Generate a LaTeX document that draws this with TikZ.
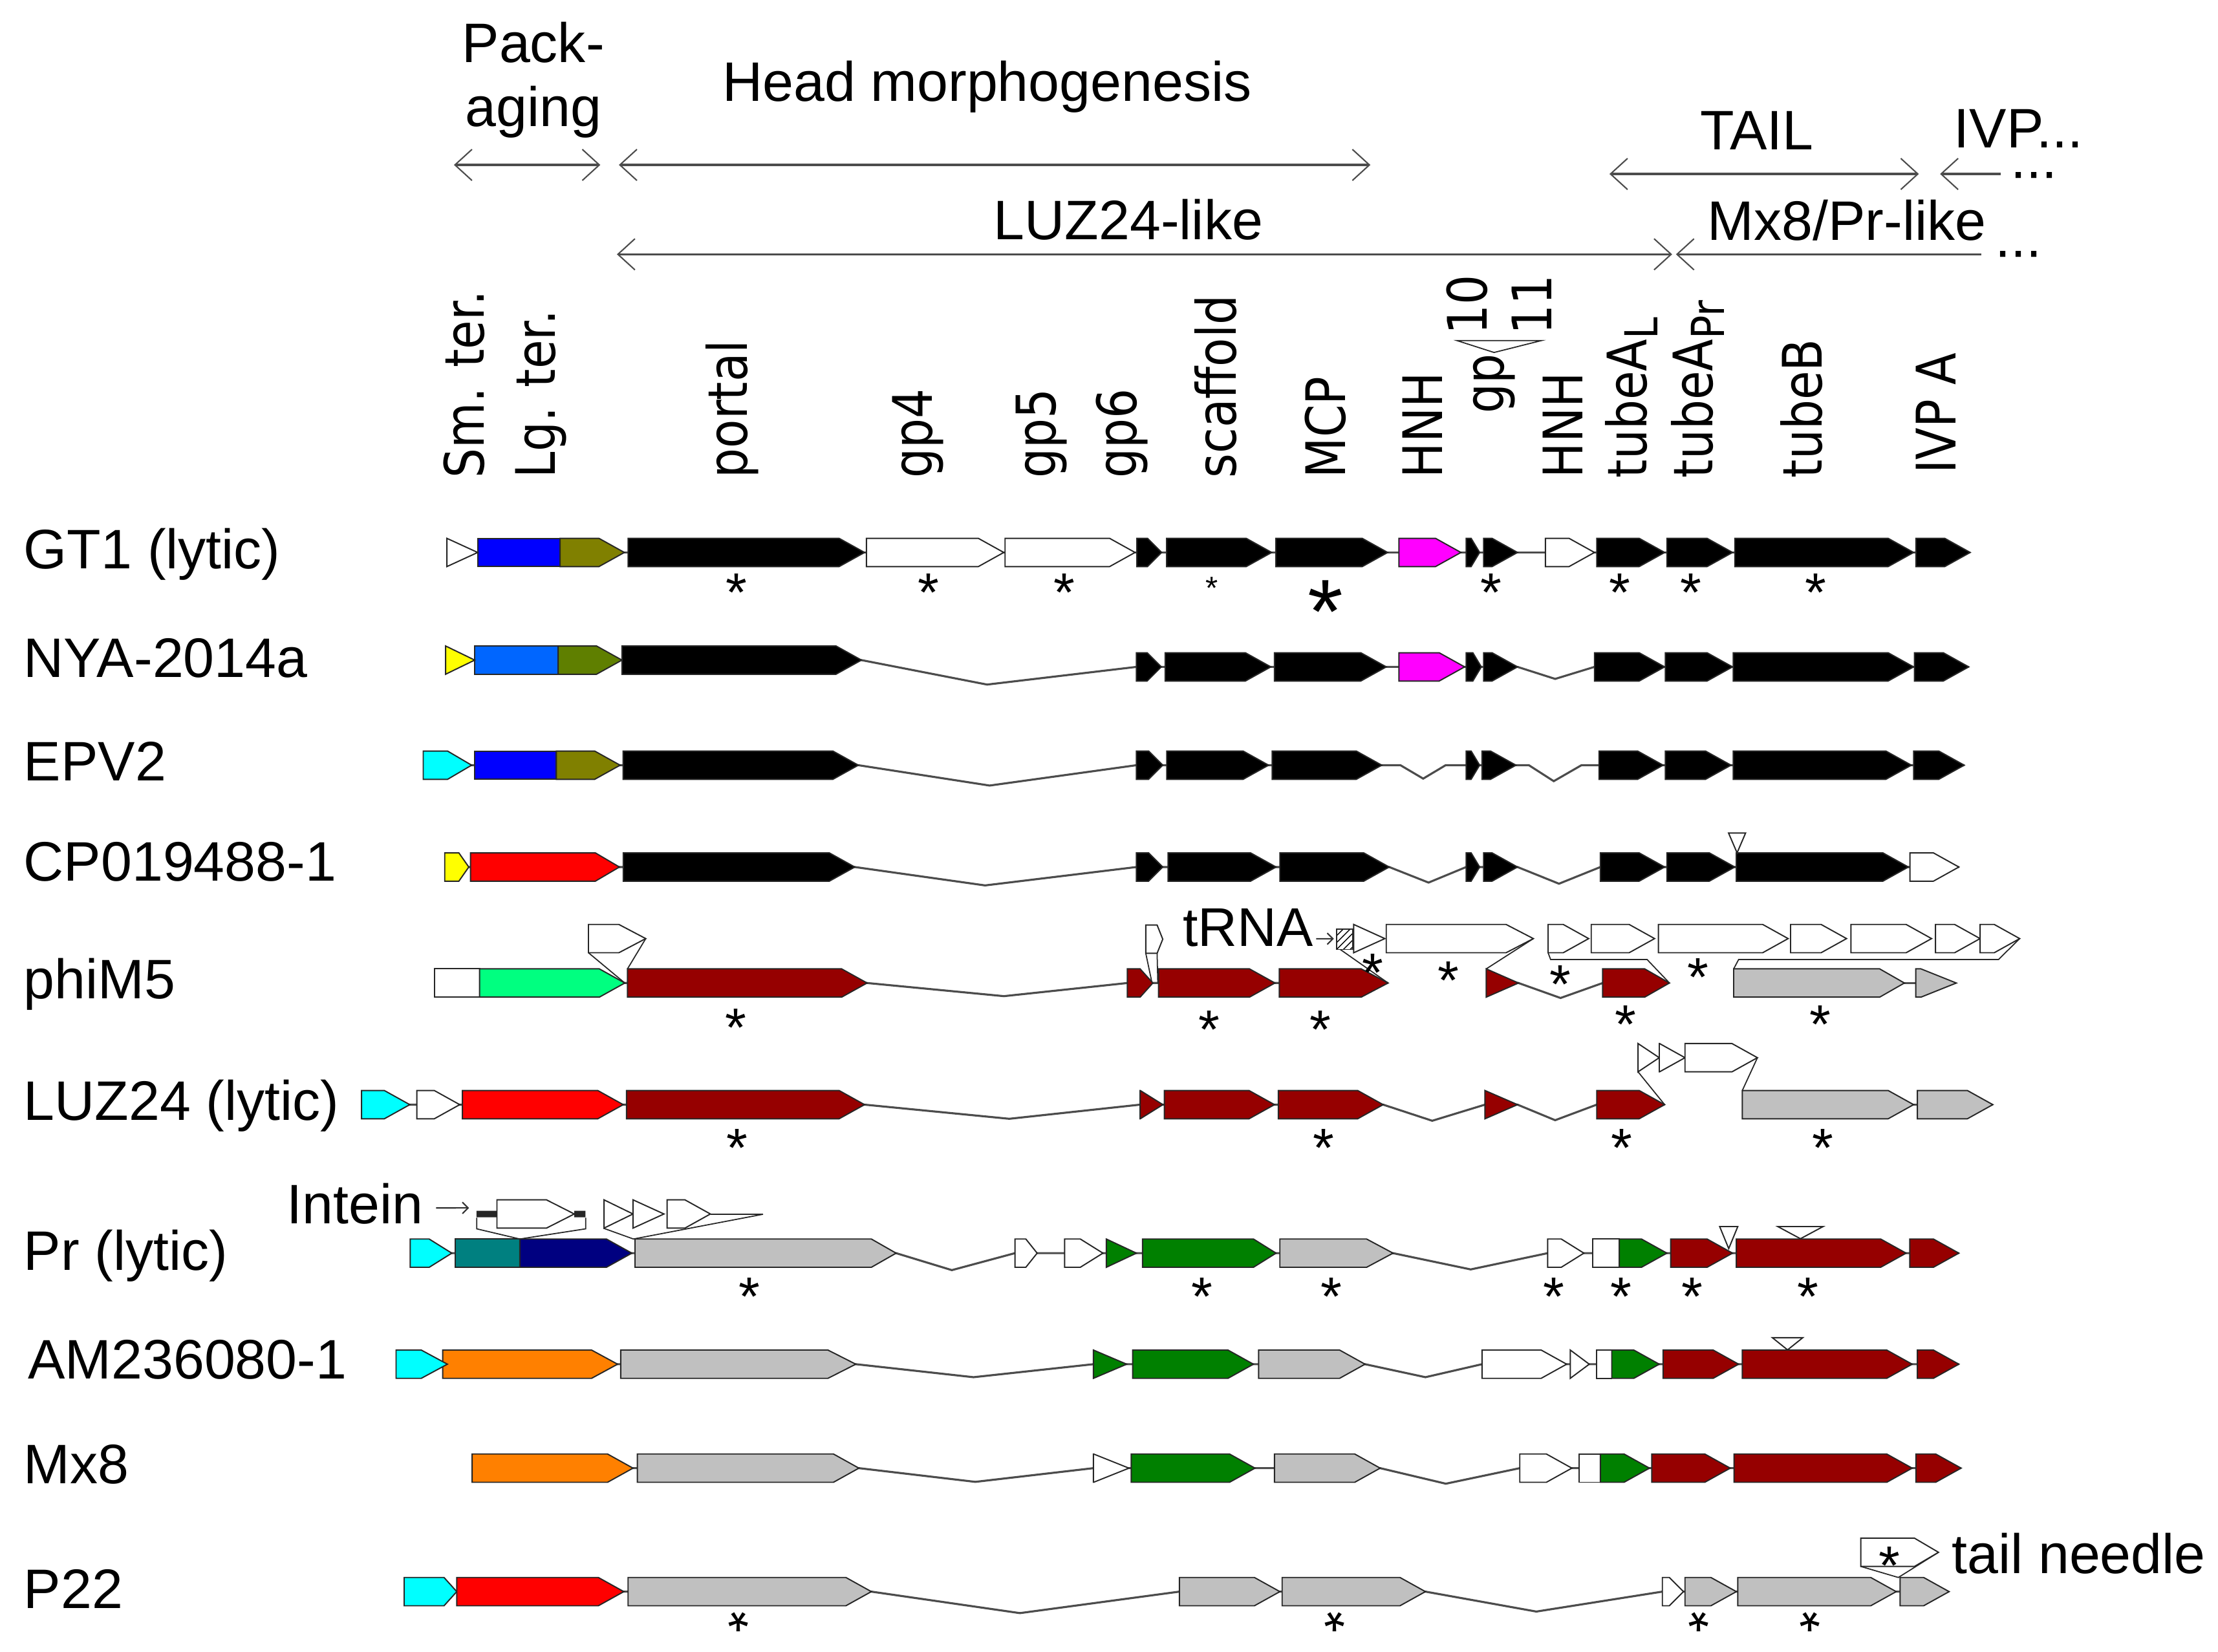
\documentclass[tikz,border=0pt]{standalone}
\usepackage{fontspec}
\setmainfont{Liberation Sans}
\newfontfamily\genefam[FakeStretch=0.86]{DejaVu Sans}
\usetikzlibrary{arrows.meta,patterns}

\definecolor{lgblue}{HTML}{0000FF}
\definecolor{nyablue}{HTML}{0066FF}
\definecolor{lgolive}{HTML}{808000}
\definecolor{nyaolive}{HTML}{5F7F00}
\definecolor{hnhpink}{HTML}{FF00FF}
\definecolor{smyellow}{HTML}{FFFF00}
\definecolor{smcyan}{HTML}{00FFFF}
\definecolor{lgred}{HTML}{FF0000}
\definecolor{luzred}{HTML}{960000}
\definecolor{mfive}{HTML}{00FF80}
\definecolor{prgrey}{HTML}{C0C0C0}
\definecolor{prgreen}{HTML}{008000}
\definecolor{prteal}{HTML}{008080}
\definecolor{prnavy}{HTML}{000080}
\definecolor{mxorange}{HTML}{FF8000}

\newcommand{\rowfont}{\fontsize{24.5}{28.4}\selectfont}
\newcommand{\genefont}{\genefam\fontsize{24}{28}\selectfont}
\newcommand{\genesub}[1]{\raisebox{-5pt}{\fontsize{20}{20}\selectfont #1}}
\newcommand{\astglyph}{\raisebox{-0.573em}[0.15em][0.15em]{*}}
\newcommand{\dotglyph}{\raisebox{-0.05em}[0.06em][0.06em]{...}}
% gene arrow: [head]{from}{to}{row}{colour}
\newcommand{\gene}[5][18]{%
  \pgfmathsetmacro\ghd{min(#1,#3-#2)}%
  \filldraw[genebox,fill=#5] (#2,#4-10) -- (#3-\ghd,#4-10) -- (#3,#4) -- (#3-\ghd,#4+10) -- (#2,#4+10) -- cycle;}
% gene in two colours: {from}{split}{to}{row}{colour 1}{colour 2}
\newcommand{\twogene}[6]{%
  \filldraw[genebox,fill=#5] (#1,#4-10) rectangle (#2,#4+10);
  \gene{#2}{#3}{#4}{#6}}
% insertion mark: {from}{to}{top}{tip}
\newcommand{\insmark}[4]{%
  \filldraw[genebox,fill=white] (#1,#3) -- (#2,#3) -- ({(#1+#2)/2},#4) -- cycle;}

\begin{document}
\begin{tikzpicture}[x=0.021875cm, y=-0.021875cm, line join=miter,
  genebox/.style={draw=black!85, line width=0.55pt},
  backbone/.style={draw=black!70, line width=0.9pt},
  link/.style={draw=black!85, line width=0.5pt},
  span/.style={draw=black!70, line width=1pt, {Straight Barb[length=7.5pt,width=13.7pt,line width=0.6pt]}-{Straight Barb[length=7.5pt,width=13.7pt,line width=0.6pt]}},
  spanl/.style={draw=black!70, line width=1pt, {Straight Barb[length=7.5pt,width=13.7pt,line width=0.6pt]}-},
  pointer/.style={draw=black!80, line width=0.6pt, -{Straight Barb[length=2.5pt,width=5pt]}},
  rowlab/.style={anchor=base west, inner sep=0, font=\rowfont},
  toplab/.style={anchor=base, inner sep=0, font=\rowfont},
  trail/.style={anchor=center, inner sep=0, font=\rowfont, rotate=180},
  genelab/.style={rotate=90, anchor=base west, inner sep=0, font=\genefont},
  astk/.style={inner sep=0, anchor=center, font=\fontsize{24}{24}\selectfont},
  astsm/.style={inner sep=0, anchor=center, font=\fontsize{14}{14}\selectfont},
  astbig/.style={inner sep=0, anchor=center, font=\fontsize{40}{40}\selectfont}]
\useasboundingbox (0,0) rectangle (1568,1168);

% header
\node[anchor=south, align=center, inner sep=0, font=\rowfont] (pack) at (377,98) {Pack-\\aging};
\node[rowlab] (headm) at (510.4,71.6) {Head morphogenesis};
\node[toplab] (tail) at (1242,105.9) {TAIL};
\node[rowlab] (ivp) at (1381,104.4) {IVP...};
\node[toplab] (luzlike) at (797.7,169.2) {LUZ24-like};
\node[toplab] (mxlike) at (1305.6,169.9) {Mx8/Pr-like};
% trailing dots, turned round (they look the same) to keep clear of the text above
\node[trail] (ivpdots) at (1438,124) {\dotglyph};
\node[trail] (mxdots) at (1427,179.6) {\dotglyph};
\path (320.9,116.6) coordinate (pk0) (424.4,116.6) coordinate (pk1)
  (437.5,116.6) coordinate (hm0) (968.8,116.6) coordinate (hm1)
  (1137.8,123) coordinate (tl0) (1356.5,123) coordinate (tl1)
  (1371.5,123) coordinate (iv0) (1414.2,123) coordinate (iv1)
  (436.1,179.8) coordinate (lz0) (1182.1,179.8) coordinate (lz1)
  (1184.8,179.8) coordinate (mx0) (1400.8,179.8) coordinate (mx1);
\draw[span] (pk0) -- (pk1);
\draw[span] (hm0) -- (hm1);
\draw[span] (tl0) -- (tl1);
\draw[spanl] (iv0) -- (iv1);
\draw[span] (lz0) -- (lz1);
\draw[spanl] (mx0) -- (mx1);

% gene names
\node[genelab] (smter) at (342.1,338.3) {Sm. ter.};
\node[genelab] (lgter) at (392.4,338.3) {Lg. ter.};
\node[genelab] (portal) at (528,338.3) {portal};
\node[genelab] (gpfour) at (659,338.3) {gp4};
\node[genelab] (gpfive) at (746.5,338.3) {gp5};
\node[genelab] (gpsix) at (803.4,338.3) {gp6};
\node[genelab] (scaf) at (873.7,338.3) {scaffold};
\node[genelab] (mcp) at (951,338.3) {MCP};
\node[genelab] (hnha) at (1019.8,338.3) {HNH};
\node[genelab] (gpx) at (1063,292.6) {gp};
\node[genelab] (gpten) at (1051,237) {10};
\node[genelab] (gpeleven) at (1097,237) {11};
\node[genelab] (hnhb) at (1118.9,338.3) {HNH};
\node[genelab] (tubeal) at (1164,338.3) {tubeA\genesub{L}};
\node[genelab] (tubeapr) at (1210.7,338.3) {tubeA\genesub{Pr}};
\node[genelab] (tubeb) at (1288,338.3) {tubeB};
\node[genelab] (ivpa) at (1382.7,335.3) {IVP A};
\draw[link] (1030,240.8) -- (1089.7,240.8) -- (1056.2,249.2) -- cycle;

% row names
\node[rowlab] (gt1) at (16.5,402) {GT1 (lytic)};
\node[rowlab] (nya) at (16.5,479) {NYA-2014a};
\node[rowlab] (epv) at (16.5,552) {EPV2};
\node[rowlab] (cp) at (16.5,623) {CP019488-1};
\node[rowlab] (phim) at (16.5,706) {phiM5};
\node[rowlab] (luz) at (16.5,792) {LUZ24 (lytic)};
\node[rowlab] (pr) at (16.5,898) {Pr (lytic)};
\node[rowlab] (am) at (19.5,975) {AM236080-1};
\node[rowlab] (mx) at (16.5,1049) {Mx8};
\node[rowlab] (ptt) at (16.5,1137) {P22};

% GT1
\draw[backbone] (315.9,390.6) -- (1392.8,390.6);
\twogene{337.7}{395.9}{441.4}{390.6}{lgblue}{lgolive}
\foreach \xa/\xb/\col/\hl in {315.9/337.7/white/22, 444/611.2/black/18, 612.5/709.6/white/18,
  710.5/802.4/white/18, 803.7/821.2/black/10, 824.7/899/black/18, 902/981/black/18,
  989/1032.8/hnhpink/18, 1036.5/1046/black/6, 1048.8/1072.8/black/18, 1092.5/1127.2/white/18,
  1128.8/1176.8/black/18, 1178.4/1224.8/black/18, 1226.4/1352.8/black/18, 1354.4/1392.8/black/18}
  {\gene[\hl]{\xa}{\xb}{390.6}{\col}}
\foreach \x [count=\i] in {520.6,656.2,752.5,1054,1145,1195.5,1283.5}
  \node[astk] (gtast\i) at (\x,410) {\astglyph};
\node[astsm] (gtastsm) at (856.5,410.5) {\astglyph};
\node[astbig] (gtastbig) at (937,418) {\astglyph};

% NYA-2014a
\draw[backbone] (315,466.7) -- (609,466.7) -- (697.8,484) -- (803.4,471.5) -- (1072.8,471.5)
  -- (1099.4,480) -- (1127.2,471.5) -- (1391.8,471.5);
\twogene{335.6}{394.6}{439.7}{466.7}{nyablue}{nyaolive}
\foreach \xa/\xb/\col/\hl in {315/335.6/smyellow/21, 439.7/609/black/18}
  {\gene[\hl]{\xa}{\xb}{466.7}{\col}}
\foreach \xa/\xb/\col/\hl in {803.4/821/black/10, 823.7/898.4/black/18, 901/980/black/18,
  989/1035.4/hnhpink/18, 1036.5/1047.2/black/6, 1048.8/1072.8/black/18, 1127.2/1176.8/black/18,
  1177.3/1224.8/black/18, 1225.3/1352.8/black/18, 1353.4/1391.8/black/18}
  {\gene[\hl]{\xa}{\xb}{471.5}{\col}}

% EPV2
\draw[backbone] (299.2,541) -- (606.8,541) -- (699.6,555.4) -- (803.4,541) -- (990,541)
  -- (1006.1,550.5) -- (1022,541) -- (1080.8,541) -- (1098.4,552.3) -- (1118,541) -- (1388.6,541);
\twogene{335.6}{393.3}{438.4}{541}{lgblue}{lgolive}
\foreach \xa/\xb/\col/\hl in {299.2/333.4/smcyan/17, 440.5/606.8/black/18, 803.4/822/black/10,
  824.8/896.8/black/18, 899.4/976.8/black/18, 1036.5/1046/black/6, 1047.7/1071.7/black/18,
  1130.4/1175.7/black/18, 1177.3/1223.7/black/18, 1225.3/1351.2/black/18, 1352.8/1388.6/black/18}
  {\gene[\hl]{\xa}{\xb}{541}{\col}}

% CP019488-1
\draw[backbone] (314.4,613) -- (604.3,613) -- (696.4,626) -- (803.4,613) -- (982.1,613)
  -- (1009.9,624) -- (1036.5,613) -- (1072.8,613) -- (1102.1,624.8) -- (1131.4,613) -- (1384.8,613);
\foreach \xa/\xb/\col/\hl in {314.4/331.4/smyellow/7, 332.6/437.9/lgred/17, 440.6/604.3/black/18,
  803.4/822/black/10, 825.8/902.1/black/18, 904.8/982.1/black/18, 1036.5/1046/black/6,
  1048.8/1072.8/black/18, 1131.4/1176.8/black/18, 1178.4/1226.4/black/18, 1227.5/1349.1/black/18,
  1350.2/1384.8/white/18}
  {\gene[\hl]{\xa}{\xb}{613}{\col}}
\insmark{1222}{1234}{589}{603}

% phiM5
\draw[backbone] (307.2,695) -- (613,695) -- (709.7,704.3) -- (797,695) -- (981.3,695);
\draw[backbone] (1050.7,695) -- (1073.5,695) -- (1103.2,705.6) -- (1133,695) -- (1180,695);
\draw[backbone] (1225.6,695) -- (1383,695);
\draw[link] (416,673.6) -- (441.7,695) (456.5,663.6) -- (443.6,685);
\draw[link] (810,674) -- (814.4,695) (818,674) -- (818.5,695);
\draw[link] (947.5,671.3) -- (981.3,695) (1084,663.6) -- (1050.7,685);
\draw[link] (1094.4,673.6) -- (1096.2,678.4) -- (1164.4,678.4) -- (1180.2,695);
\draw[link] (1427.8,663.6) -- (1412.8,678.4) -- (1229.1,678.4) -- (1225.6,685);
\twogene{307.2}{339}{441.7}{695}{white}{mfive}
\foreach \xa/\xb/\col/\hl in {443.6/613/luzred/18, 797/815/luzred/9, 819/901.3/luzred/18,
  904.4/981.3/luzred/19, 1050.7/1073.5/luzred/23, 1133/1180.2/luzred/17.5,
  1225.6/1346.3/prgrey/17.5, 1354.3/1383/prgrey/25}
  {\gene[\hl]{\xa}{\xb}{695}{\col}}
\foreach \xa/\xb/\hl in {416/456.5/19, 957/979/22, 980/1084/19.3, 1094.4/1123.1/18,
  1124.9/1169.7/18, 1172.4/1264.1/18, 1265.8/1305.4/18, 1308.5/1365.5/18, 1368.3/1399.8/18,
  1399.8/1427.8/18}
  {\gene[\hl]{\xa}{\xb}{663.6}{white}}
\gene[4]{810}{822}{664}{white}
\draw[genebox, pattern=north east lines] (945.1,656.8) rectangle (956.3,671.3);
\node[rowlab, font=\fontsize{24}{28}\selectfont] (trna) at (835.8,669) {tRNA};
\path (943,663.7) coordinate (trnapt);
\draw[pointer] ([xshift=1.2pt,yshift=3.3pt]trna.base east) -- (trnapt);
\foreach \x/\y [count=\i] in {520/718, 855/719, 933.5/719, 1149.4/715.5, 1286.8/715.5,
  970.3/679, 1023.8/684.2, 1103.2/687.3, 1200.5/682}
  \node[astk] (mfast\i) at (\x,\y) {\astglyph};

% LUZ24 (lytic)
\draw[backbone] (255.6,781) -- (611.2,781) -- (713.5,791) -- (806,781) -- (977.8,781)
  -- (1012.5,792.4) -- (1049.8,781) -- (1072.8,781) -- (1099.4,792) -- (1128.8,781) -- (1176.8,781);
\draw[backbone] (1231.7,781) -- (1408.8,781);
\draw[link] (1158,757.8) -- (1176.8,781) (1242.4,747.8) -- (1231.7,771);
\foreach \xa/\xb/\col/\hl in {255.6/289.7/smcyan/18, 294.7/325/white/18, 326.9/440.6/lgred/18,
  442.9/611.2/luzred/18, 806/822.1/luzred/16, 823.1/901/luzred/18, 903.7/977.8/luzred/18,
  1049.8/1072.8/luzred/23, 1128.8/1176.8/luzred/18, 1231.7/1352.8/prgrey/18,
  1355.5/1408.8/prgrey/18}
  {\gene[\hl]{\xa}{\xb}{781}{\col}}
\foreach \xa/\xb/\hl in {1158/1173/15, 1173/1191.2/18, 1191.2/1242.4/18}
  {\gene[\hl]{\xa}{\xb}{747.8}{white}}
\foreach \x [count=\i] in {521,935.7,1146.4,1288.8}
  \node[astk] (luzast\i) at (\x,803) {\astglyph};

% Pr (lytic)
\draw[backbone] (290,886) -- (633.5,886) -- (672.9,898) -- (717.5,886) -- (984.8,886)
  -- (1039.7,897.5) -- (1094.1,886) -- (1384.8,886);
\draw[link] (337,861) -- (337,868.8) -- (367.5,876) -- (414,868.8) -- (414,861);
\draw[link] (427,868.5) -- (447.8,876) (502.2,858.5) -- (539.4,858.5) -- (447.8,876);
\twogene{322}{367.5}{446.7}{886}{prteal}{prnavy}
\twogene{1126.1}{1144.8}{1178.4}{886}{white}{prgreen}
\foreach \xa/\xb/\col/\hl in {290/319.4/smcyan/16, 448.9/633.5/prgrey/17.5, 717.5/733.2/white/8,
  752.6/779.7/white/16, 782.1/803.4/prgreen/22, 807.7/902.1/prgreen/16, 904.8/984.8/prgrey/18.7,
  1094.1/1119.7/white/16, 1181.1/1224.8/luzred/18, 1227.5/1347.5/luzred/18,
  1350.1/1384.8/luzred/18}
  {\gene[\hl]{\xa}{\xb}{886}{\col}}
\insmark{1215.7}{1228.5}{867.2}{882.8}
\insmark{1256.8}{1288.8}{867.2}{875.8}
\fill[black!85] (336.9,856) rectangle (351.3,860.6) (406,856) rectangle (413.9,860.6);
\foreach \xa/\xb/\hl in {351.3/406/19.7, 427/447.5/21, 447.5/469.4/22, 471.6/502.2/18}
  {\gene[\hl]{\xa}{\xb}{858.3}{white}}
\node[rowlab] (intein) at (202.5,865.3) {Intein};
\path (331.6,854) coordinate (inteinpt);
\draw[pointer] ([xshift=5.5pt,yshift=7pt]intein.base east) -- (inteinpt);
\foreach \x [count=\i] in {530,849.8,941,1098.4,1145.9,1196.5,1278.1}
  \node[astk] (prast\i) at (\x,908) {\astglyph};

% AM236080-1
\draw[backbone] (280,964.5) -- (605,964.5) -- (688.2,973.7) -- (773,964.5) -- (965,964.5)
  -- (1007.7,973.7) -- (1047.7,964.5) -- (1384.8,964.5);
\twogene{1128.8}{1139.4}{1173}{964.5}{white}{prgreen}
\foreach \xa/\xb/\col/\hl in {313/436.6/mxorange/18.4, 280/316.3/smcyan/18.5,
  438.8/605/prgrey/19.7, 773/796.5/prgreen/24, 800.7/886.1/prgreen/18, 889.8/965/prgrey/18,
  1047.7/1107.5/white/18, 1110.1/1123.5/white/14, 1175.7/1229.1/luzred/18,
  1231.7/1351.8/luzred/18, 1355.5/1384.8/luzred/18}
  {\gene[\hl]{\xa}{\xb}{964.5}{\col}}
\insmark{1253}{1274.4}{945.8}{954.4}

% Mx8
\draw[backbone] (333.8,1038) -- (607.2,1038) -- (689.5,1047.7) -- (773,1038) -- (975.7,1038)
  -- (1022.1,1049) -- (1074.4,1038) -- (1386.4,1038);
\twogene{1116.5}{1131.4}{1166.1}{1038}{white}{prgreen}
\foreach \xa/\xb/\col/\hl in {333.8/447.5/mxorange/18, 450.6/607.2/prgrey/18, 773/798.1/white/25,
  799.7/887.2/prgreen/18, 901/975.7/prgrey/18, 1074.4/1111.2/white/18,
  1167.7/1223.2/luzred/18, 1225.9/1351.8/luzred/18, 1354.4/1386.4/luzred/18}
  {\gene[\hl]{\xa}{\xb}{1038}{\col}}

% P22
\draw[backbone] (285.7,1125.3) -- (616,1125.3) -- (721,1140.5) -- (833.8,1125.3) -- (1007.7,1125.3)
  -- (1086.1,1139.4) -- (1175.2,1125.3) -- (1377.9,1125.3);
\draw[link] (1315.5,1107.5) -- (1342,1115.3) -- (1370.4,1097.5);
\foreach \xa/\xb/\col/\hl in {285.7/322.9/smcyan/9, 322.9/441/lgred/18, 444/616/prgrey/18,
  833.8/904.8/prgrey/18, 906.4/1007.7/prgrey/18, 1175.2/1190.1/white/10,
  1191.2/1227.5/prgrey/18, 1228.5/1340.5/prgrey/18, 1343.2/1377.9/prgrey/18}
  {\gene[\hl]{\xa}{\xb}{1125.3}{\col}}
\gene[17]{1315.5}{1370.4}{1097.5}{white}
\node[astk] (needleast) at (1335.8,1098) {\astglyph};
\node[rowlab] (needle) at (1379.5,1112.6) {tail needle};
% bottom marks turned round so that they stay inside the page
\foreach \x [count=\i] in {522,943.7,1200.8,1279.7}
  \node[astk, rotate=180] (pttast\i) at (\x,1149) {\astglyph};
\end{tikzpicture}
\end{document}
